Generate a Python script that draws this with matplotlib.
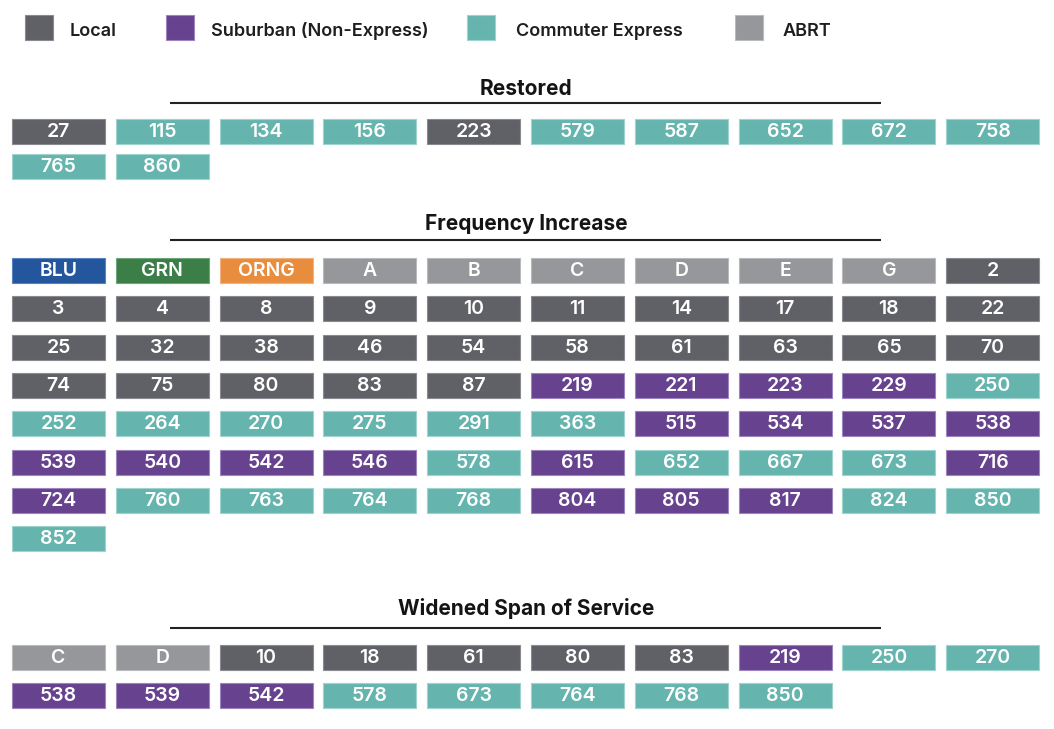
import matplotlib
matplotlib.use("Agg")
import matplotlib.pyplot as plt
from matplotlib.patches import Rectangle

plt.rcParams['font.family'] = ['Inter', 'DejaVu Sans']

# ---- data ----
legend_labels = ["Local", "Suburban (Non-Express)", "Commuter Express", "ABRT"]
legend_keys = ["L", "S", "C", "A"]

section_titles = ["Restored", "Frequency Increase", "Widened Span of Service"]

restored_routes = ["27", "115", "134", "156", "223", "579", "587", "652", "672", "758",
                   "765", "860"]
restored_types = ["L", "C", "C", "C", "L", "C", "C", "C", "C", "C",
                  "C", "C"]

frequency_routes = ["BLU", "GRN", "ORNG", "A", "B", "C", "D", "E", "G", "2",
                    "3", "4", "8", "9", "10", "11", "14", "17", "18", "22",
                    "25", "32", "38", "46", "54", "58", "61", "63", "65", "70",
                    "74", "75", "80", "83", "87", "219", "221", "223", "229", "250",
                    "252", "264", "270", "275", "291", "363", "515", "534", "537", "538",
                    "539", "540", "542", "546", "578", "615", "652", "667", "673", "716",
                    "724", "760", "763", "764", "768", "804", "805", "817", "824", "850",
                    "852"]
frequency_types = ["BLU", "GRN", "ORNG", "A", "A", "A", "A", "A", "A", "L",
                   "L", "L", "L", "L", "L", "L", "L", "L", "L", "L",
                   "L", "L", "L", "L", "L", "L", "L", "L", "L", "L",
                   "L", "L", "L", "L", "L", "S", "S", "S", "S", "C",
                   "C", "C", "C", "C", "C", "C", "S", "S", "S", "S",
                   "S", "S", "S", "S", "C", "S", "C", "C", "C", "S",
                   "S", "C", "C", "C", "C", "S", "S", "S", "C", "C",
                   "C"]

widened_routes = ["C", "D", "10", "18", "61", "80", "83", "219", "250", "270",
                  "538", "539", "542", "578", "673", "764", "768", "850"]
widened_types = ["A", "A", "L", "L", "L", "L", "L", "S", "C", "C",
                 "S", "S", "S", "C", "C", "C", "C", "C"]

# ---- styles ----
colors = {"L": "#606166", "S": "#67428f", "C": "#65b5ae", "A": "#95979a",
          "BLU": "#23569c", "GRN": "#3c7e48", "ORNG": "#e88d3e"}
edge_colors = {"L": "#8a8b90", "S": "#9d86c0", "C": "#9fd3cd", "A": "#b8babc",
               "BLU": "#5b82c0", "GRN": "#6ea67a", "ORNG": "#f2b27e"}

W, H = 1054, 729
fig = plt.figure(figsize=(W / 100, H / 100), dpi=100)
ax = fig.add_axes([0, 0, 1, 1])
ax.set_xlim(0, W)
ax.set_ylim(H, 0)
ax.axis("off")

# legend
leg_sq_x = [25, 166, 467, 735]
leg_tx_x = [70, 211, 516, 783]
for k, lab, sx, tx in zip(legend_keys, legend_labels, leg_sq_x, leg_tx_x):
    ax.add_patch(Rectangle((sx, 15), 28, 25, facecolor=colors[k],
                           edgecolor=edge_colors[k], linewidth=0.8))
    ax.text(tx, 31, lab, ha="left", va="center", fontsize=13,
            fontweight="semibold", color="#1e1e1e")

col_left0 = 12
col_pitch = 103.8
tile_w = 93
tile_h = 25
ncols = 10


def draw_section(title, title_y, line_y, routes, types, row_tops):
    ax.text(526, title_y, title, ha="center", va="center", fontsize=15,
            fontweight="bold", color="#141414")
    ax.plot([170, 881], [line_y, line_y], color="#222222", linewidth=1.5,
            solid_capstyle="butt")
    xs = [col_left0 + (i % ncols) * col_pitch for i in range(len(routes))]
    ys = [row_tops[i // ncols] for i in range(len(routes))]
    ax.bar(xs, [tile_h] * len(routes), width=tile_w, bottom=ys, align="edge",
           color=[colors[t] for t in types],
           edgecolor=[edge_colors[t] for t in types], linewidth=0.8)
    for x, y, r in zip(xs, ys, routes):
        ax.text(x + tile_w / 2, y + tile_h / 2 + 0.5, r, ha="center", va="center",
                fontsize=14, fontweight="semibold", color="white")


draw_section(section_titles[0], 89, 103, restored_routes, restored_types, [119, 154])
draw_section(section_titles[1], 223.5, 240, frequency_routes, frequency_types,
             [258 + i * 38.3 for i in range(8)])
draw_section(section_titles[2], 608.5, 628, widened_routes, widened_types, [645, 683])

fig.savefig("out.png", dpi=100, facecolor="white")
